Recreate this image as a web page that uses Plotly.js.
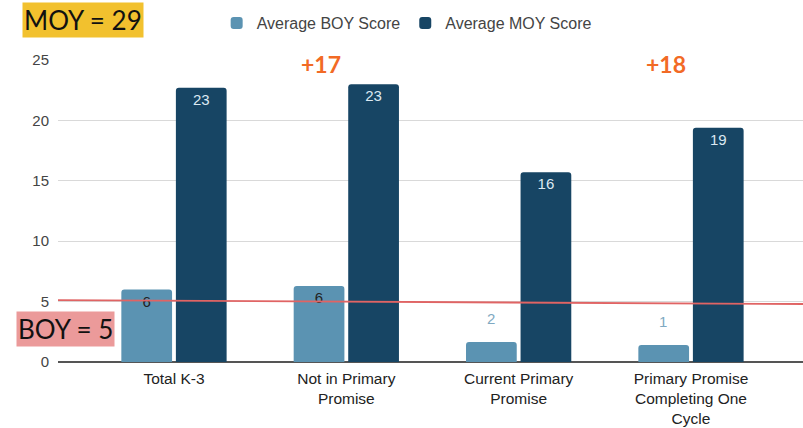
<!DOCTYPE html>
<html>
<head>
<meta charset="utf-8">
<script src="https://cdn.plot.ly/plotly-3.0.1.min.js"></script>
<style>html,body{margin:0;padding:0;background:#fff;}#chart{width:803px;height:428px;}</style>
</head>
<body>
<div id="chart"></div>
<script>
const categories = ["Total K-3", "Not in Primary<br>Promise", "Current Primary<br>Promise", "Primary Promise<br>Completing One<br>Cycle"];
const boyScores = [6.0, 6.3, 1.65, 1.4];
const moyScores = [22.7, 23.0, 15.7, 19.4];
const yTicks = [0, 5, 10, 15, 20, 25];
const gainLabels = ["+17", "+18"];
const gainCategories = [1, 3];
const benchmarkBOY = 5;

const boyColor = "#5b93b2";
const moyColor = "#174564";
const labelFont = "Liberation Sans, Arial, sans-serif";

const insideBoy = boyScores.map(v => v >= 3);

const traces = [
  {
    type: "bar", name: "Average BOY Score", x: categories, y: boyScores,
    marker: {color: boyColor},
    text: boyScores.map((v, i) => insideBoy[i] ? Math.round(v).toString() : ""),
    textposition: "inside",
    insidetextanchor: "end",
    textfont: {family: labelFont, size: 15, color: "#222"},
    hoverinfo: "none"
  },
  {
    type: "bar", name: "Average MOY Score", x: categories, y: moyScores,
    marker: {color: moyColor},
    texttemplate: "%{y:.0f}",
    textposition: "inside",
    insidetextanchor: "end",
    textfont: {family: labelFont, size: 15, color: "#dce9f2"},
    hoverinfo: "none"
  }
];

const annotations = gainLabels.map((t, i) => ({
  x: categories[gainCategories[i]], y: 1, xref: "x", yref: "paper",
  xshift: -25, yanchor: "middle", yshift: -4,
  text: "<b>" + t + "</b>", showarrow: false,
  font: {family: "Lato, sans-serif", size: 23, color: "#f26a25"}
}));
boyScores.forEach((v, i) => {
  if (!insideBoy[i]) {
    annotations.push({
      x: categories[i], y: v, xref: "x", yref: "y", xshift: -28, yshift: 13,
      yanchor: "bottom", text: Math.round(v).toString(), showarrow: false,
      font: {family: labelFont, size: 15, color: "#7fa9c2"}
    });
  }
});
annotations.push({
  x: -0.0483, y: 1.132, xref: "paper", yref: "paper", xanchor: "left", yanchor: "middle",
  text: "MOY = 29", showarrow: false,
  font: {family: "Lato, sans-serif", size: 26, color: "#111"},
  bgcolor: "#f2c12e", borderpad: 1
});
annotations.push({
  x: -0.0564, y: 0.11, xref: "paper", yref: "paper", xanchor: "left", yanchor: "middle",
  text: "BOY = 5", showarrow: false,
  font: {family: "Lato, sans-serif", size: 26, color: "#111"},
  bgcolor: "#eb9a9a", borderpad: 1
});

const layout = {
  width: 803, height: 428,
  margin: {l: 58, r: 0, t: 60, b: 66},
  paper_bgcolor: "#fff", plot_bgcolor: "#fff",
  barmode: "group", bargap: 0.367, bargroupgap: 0.07, barcornerradius: 3,
  showlegend: true,
  legend: {orientation: "h", x: 0.468, xanchor: "center", yref: "container", y: 1 - 23 / 428, yanchor: "middle",
    font: {family: labelFont, size: 16, color: "#444"},
    itemwidth: 30, traceorder: "normal"},
  xaxis: {range: [-0.673, 3.65], tickfont: {family: labelFont, size: 15.5, color: "#222"},
    showline: false, ticks: "", ticklabelstandoff: 5, fixedrange: true},
  yaxis: {range: [0, 25], tickvals: yTicks, ticktext: yTicks.map(String),
    tickfont: {family: labelFont, size: 15, color: "#444"},
    gridcolor: "#d9d9d9", gridwidth: 1, zeroline: true, zerolinecolor: "#555", zerolinewidth: 1.5,
    ticklabelstandoff: 8, fixedrange: true},
  shapes: [{type: "line", xref: "paper", yref: "y", x0: 0, x1: 1, y0: benchmarkBOY + 0.12, y1: benchmarkBOY - 0.2,
    line: {color: "#e06464", width: 1.8}}],
  annotations: annotations
};

Plotly.newPlot("chart", traces, layout, {staticPlot: true});
</script>
</body>
</html>
